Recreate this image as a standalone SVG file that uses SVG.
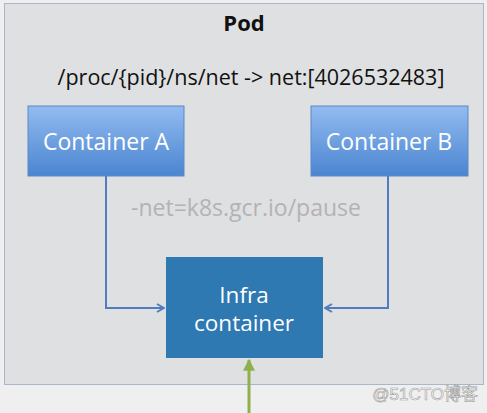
<svg xmlns="http://www.w3.org/2000/svg" width="487" height="413" viewBox="0 0 487 413">
<style>
.t{font-family:"Open Sans","Noto Sans",sans-serif;}
.c{fill:#ffffff;font-size:23px;text-anchor:middle;}
.ln{fill:none;stroke:#4f7dbf;stroke-width:2;}
</style>
<defs>
<linearGradient id="g" x1="0" y1="0" x2="0" y2="1">
<stop offset="0" stop-color="#93bbf0"/>
<stop offset="1" stop-color="#4a85d1"/>
</linearGradient>
<marker id="ab" viewBox="0 0 10 10" refX="9" refY="5" markerWidth="10" markerHeight="10" orient="auto" markerUnits="userSpaceOnUse">
<path d="M2,1 L9,5 L2,9" fill="none" stroke="#4f7dbf" stroke-width="2"/>
</marker>
<marker id="ag" viewBox="0 0 10 10" refX="9" refY="5" markerWidth="12" markerHeight="12" orient="auto" markerUnits="userSpaceOnUse">
<path d="M0,0 L10,5 L0,10 Z" fill="#8fb04e"/>
</marker>
</defs>
<rect width="487" height="413" fill="#efefef"/>
<g id="pod">
<rect x="4.5" y="3.5" width="479" height="381" fill="#dfe0e2" stroke="#a9b6cc" stroke-width="1"/>
<text class="t" x="244" y="31" font-size="22" font-weight="bold" text-anchor="middle" fill="#111">Pod</text>
<text class="t" x="251" y="85" font-size="21.5" text-anchor="middle" fill="#111">/proc/{pid}/ns/net -&gt; net:[4026532483]</text>
<text class="t" x="246" y="216" font-size="23" text-anchor="middle" fill="#b3b3b3">-net=k8s.gcr.io/pause</text>
</g>
<g id="containerA">
<rect x="28" y="106" width="156" height="70" fill="url(#g)" stroke="#5a8ac8" stroke-width="1"/>
<text class="t c" x="106" y="150">Container A</text>
</g>
<g id="containerB">
<rect x="311" y="106" width="157" height="70" fill="url(#g)" stroke="#5a8ac8" stroke-width="1"/>
<text class="t c" x="389" y="150">Container B</text>
</g>
<g id="infra">
<rect x="166" y="257" width="157" height="101" fill="#2e79b1"/>
<text class="t c" x="244" y="303" style="font-size:22.5px">Infra</text>
<text class="t c" x="244" y="331" style="font-size:22.5px">container</text>
</g>
<g id="connectors">
<path class="ln" d="M106,176 V308 H164" marker-end="url(#ab)"/>
<path class="ln" d="M388,176 V308 H325" marker-end="url(#ab)"/>
<path d="M249,413 V360" fill="none" stroke="#8fb04e" stroke-width="3" marker-end="url(#ag)"/>
</g>
<text x="478" y="400" font-family="'Liberation Sans','Noto Sans CJK SC',sans-serif" font-size="17" text-anchor="end" fill="#ffffff" stroke="#9a9a9a" stroke-width="0.6">@51CTO博客</text>
</svg>
